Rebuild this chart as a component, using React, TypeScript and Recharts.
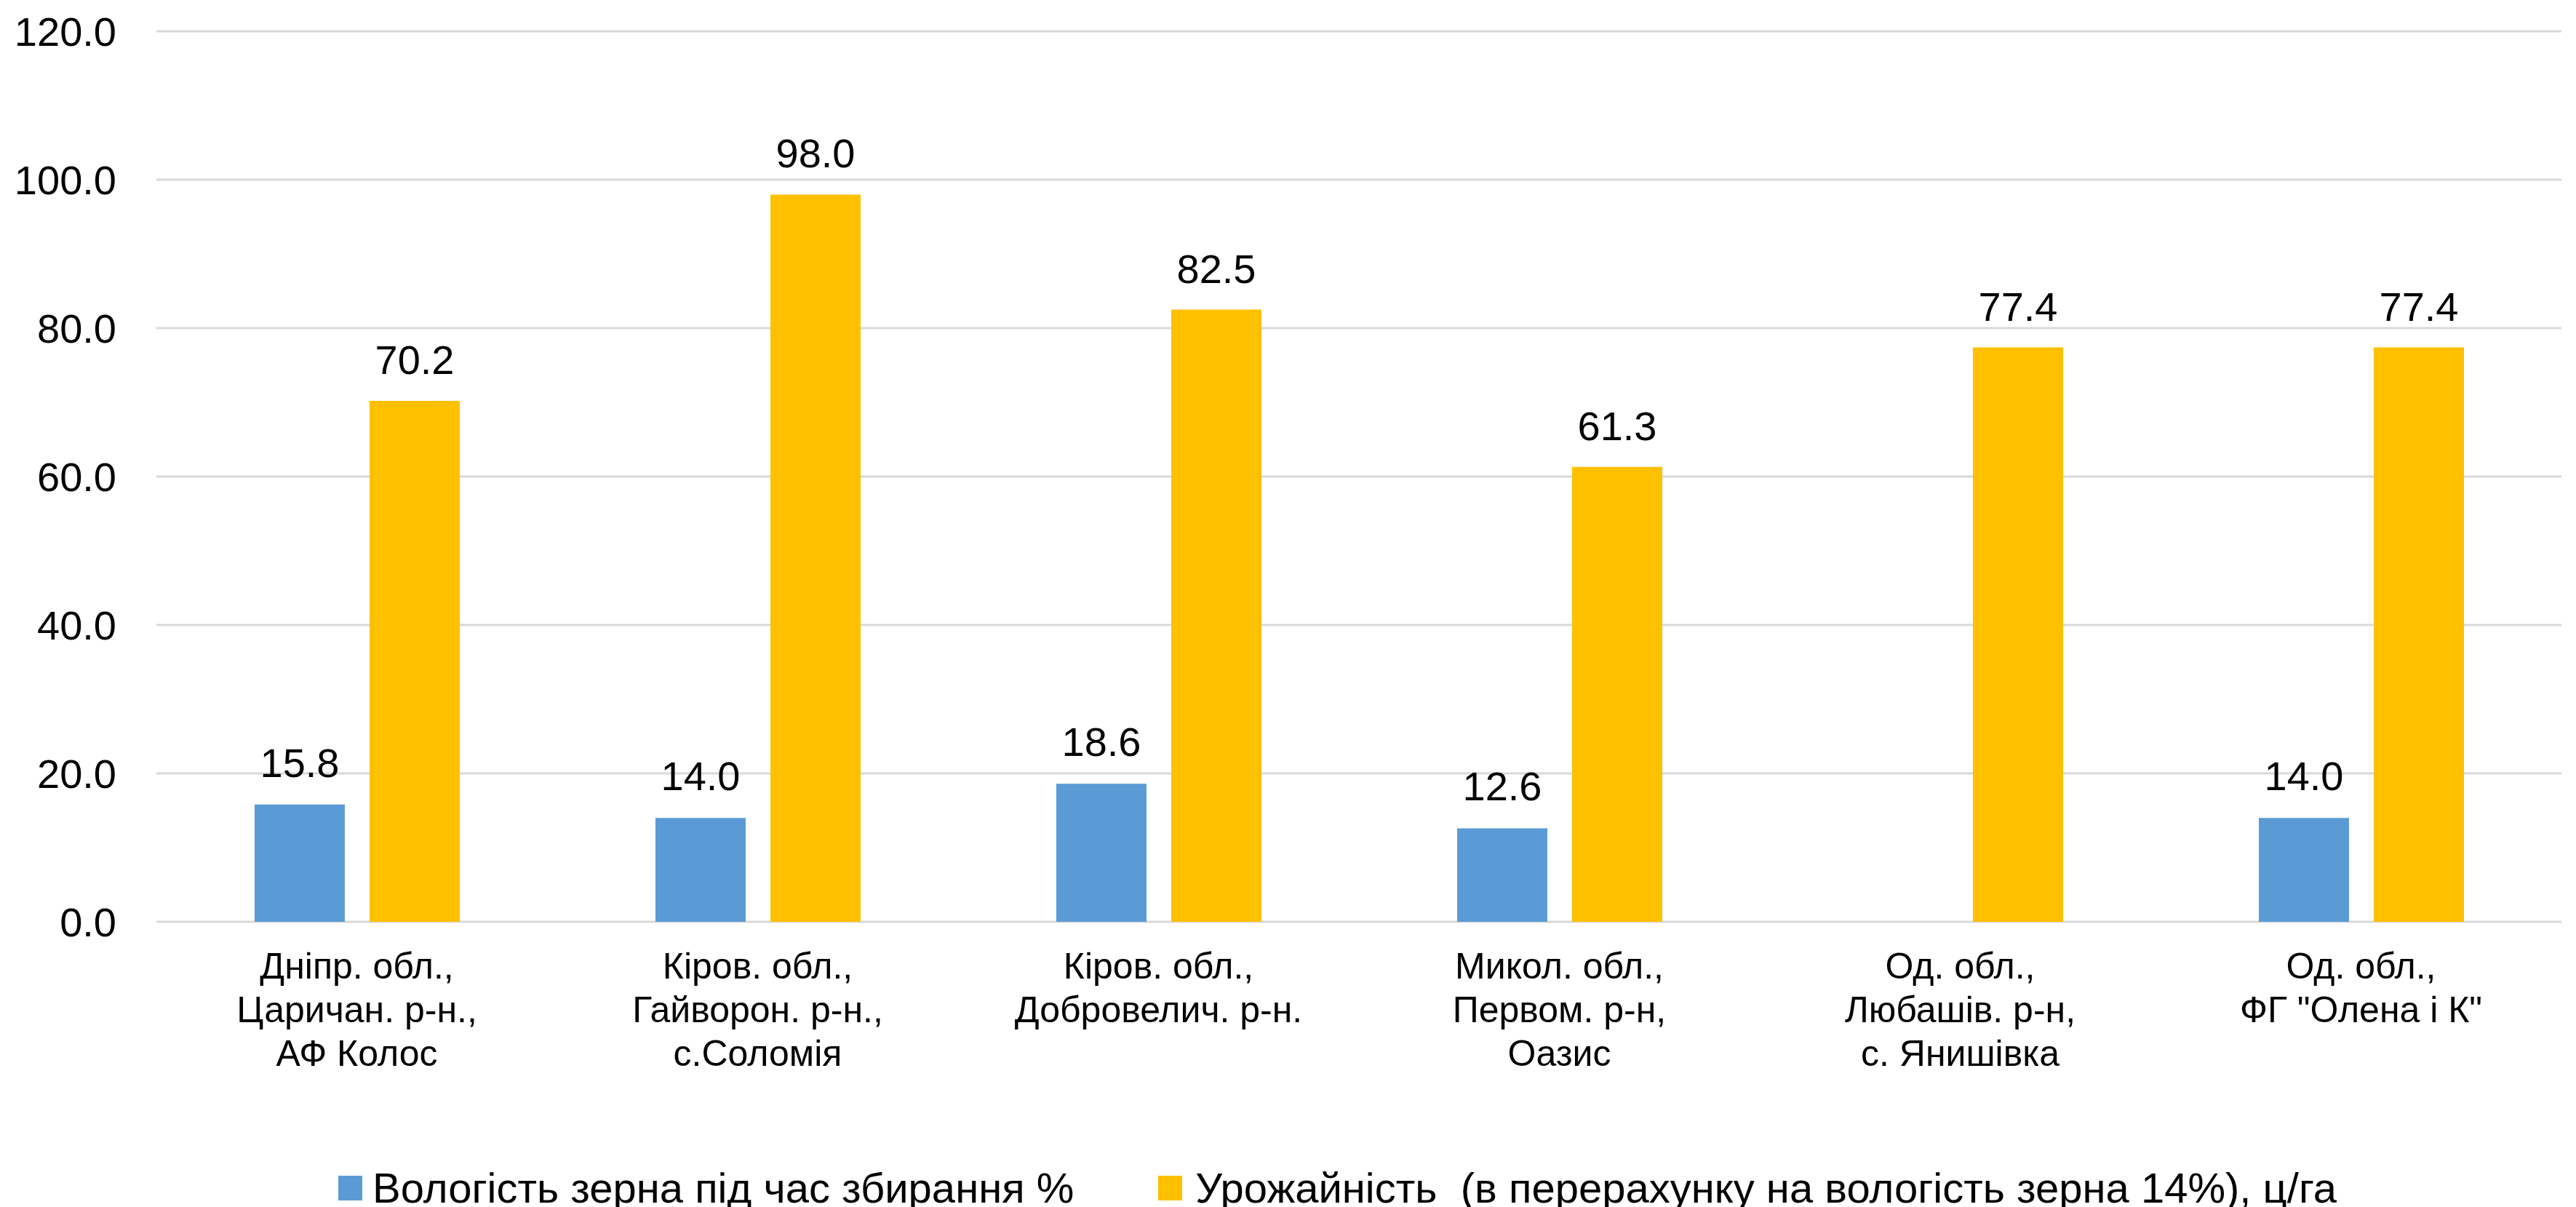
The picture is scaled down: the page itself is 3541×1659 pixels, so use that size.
import React from 'react';
import { BarChart, Bar, XAxis, YAxis, CartesianGrid, LabelList, Legend } from 'recharts';

const categories = [
  'Дніпр. обл.,\nЦаричан. р-н.,\nАФ Колос',
  'Кіров. обл.,\nГайворон. р-н.,\nс.Соломія',
  'Кіров. обл.,\nДобровелич. р-н.',
  'Микол. обл.,\nПервом. р-н,\nОазис',
  'Од. обл.,\nЛюбашів. р-н,\nс. Янишівка',
  'Од. обл.,\nФГ "Олена і К"',
];
const moisture: (number | null)[] = [15.8, 14.0, 18.6, 12.6, null, 14.0];
const yieldVals = [70.2, 98.0, 82.5, 61.3, 77.4, 77.4];
const yTicks = [0, 20, 40, 60, 80, 100, 120];
const seriesNames = [
  'Вологість зерна під час збирання %',
  'Урожайність  (в перерахунку на вологість зерна 14%), ц/га',
];
const colors = ['#5B9BD5', '#FFC000'];

const data = categories.map((name, i) => ({ name, moisture: moisture[i], yield: yieldVals[i] }));

const FONT = '"Liberation Sans", Arial, Helvetica, sans-serif';

const CategoryTick = (props: any) => {
  const { x, y, payload } = props;
  const lines = String(payload.value).split('\n');
  return (
    <text x={x} y={y} textAnchor="middle" fontFamily={FONT} fontSize={50} fill="#000">
      {lines.map((l, i) => (
        <tspan key={i} x={x} dy={i === 0 ? 78 : 60}>{l}</tspan>
      ))}
    </text>
  );
};

const LegendContent = (props: any) => {
  const payload = props.payload || [];
  return (
    <div style={{ display: 'flex', alignItems: 'center', fontFamily: FONT, fontSize: 58, color: '#000', lineHeight: 1, whiteSpace: 'pre' }}>
      {payload.map((p: any, i: number) => (
        <div key={i} style={{ display: 'flex', alignItems: 'center', marginRight: i === 0 ? 116 : 0 }}>
          <div style={{ width: 33, height: 34, background: p.color, marginRight: i === 0 ? 14 : 18 }} />
          <span>{p.value}</span>
        </div>
      ))}
    </div>
  );
};

const fmt = (v: any) => (v == null ? '' : Number(v).toFixed(1));

export default function App() {
  return (
    <div style={{ position: 'absolute', left: 0, top: 0, background: '#fff' }}>
      <BarChart
        width={3541}
        height={1659}
        data={data}
        margin={{ top: 43, right: 20, bottom: 0, left: 0 }}
        barGap={34}
        barSize={124}
      >
        <CartesianGrid vertical={false} stroke="#d9d9d9" strokeWidth={3} />
        <XAxis
          dataKey="name"
          interval={0}
          height={392}
          axisLine={false}
          tickLine={false}
          tickSize={0}
          tickMargin={0}
          tick={<CategoryTick />}
        />
        <YAxis
          width={215}
          domain={[0, 120]}
          ticks={yTicks}
          tickFormatter={(v: number) => v.toFixed(1)}
          axisLine={false}
          tickLine={false}
          tickSize={0}
          tickMargin={55}
          tick={{ fontFamily: FONT, fontSize: 56, fill: '#000' }}
        />
        <Legend
          layout="horizontal"
          verticalAlign="middle"
          content={<LegendContent />}
          wrapperStyle={{ left: 465, top: 1604, width: 'auto' }}
        />
        <Bar dataKey="moisture" name={seriesNames[0]} fill={colors[0]} isAnimationActive={false}>
          <LabelList dataKey="moisture" position="top" offset={38} formatter={fmt} fontFamily={FONT} fontSize={56} fill="#000" />
        </Bar>
        <Bar dataKey="yield" name={seriesNames[1]} fill={colors[1]} isAnimationActive={false}>
          <LabelList dataKey="yield" position="top" offset={37} formatter={fmt} fontFamily={FONT} fontSize={56} fill="#000" />
        </Bar>
      </BarChart>
    </div>
  );
}
